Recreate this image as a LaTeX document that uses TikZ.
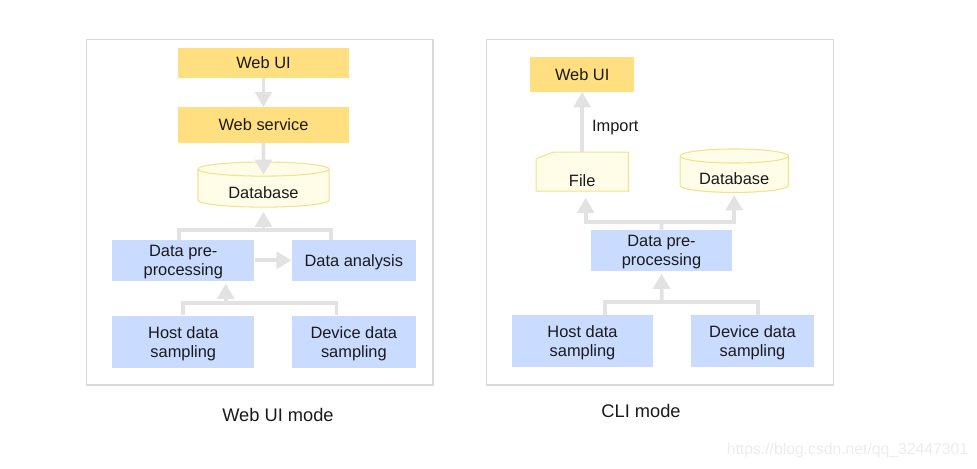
\documentclass[tikz,border=0pt]{standalone}
\usepackage{fontspec}
\setmainfont{Liberation Sans}
\usepackage{xcolor}
\usetikzlibrary{arrows.meta,shapes.geometric}

\definecolor{uiyellow}{HTML}{FFDF80}
\definecolor{procblue}{HTML}{C9DCFF}
\definecolor{storefill}{HTML}{FFFDE8}
\definecolor{storeline}{HTML}{F2E28C}
\definecolor{pipegray}{HTML}{E2E2E2}
\definecolor{panelgray}{HTML}{DADADA}
\definecolor{ink}{HTML}{1A1A1A}
\definecolor{mark}{HTML}{ECECEC}

\begin{document}
\begin{tikzpicture}[x=0.75pt,y=-0.75pt,>={Triangle[width=12.5pt,length=11.5pt]},
 font=\fontsize{12.3}{14.3}\selectfont,
 box/.style={inner sep=0pt,align=center,text=ink},
 ui/.style={box,text depth=0pt,fill=uiyellow},
 proc/.style={box,text depth=0pt,fill=procblue},
 store/.style={box,cylinder,shape border rotate=90,aspect=0.2,text height=15pt,draw=storeline,fill=storefill,line width=0.8pt},
 doc/.style={box,draw=storeline,fill=storefill,line width=0.8pt},
 pipe/.style={draw=pipegray,line width=2.8pt},
 flow/.style={pipe,->},
 panel/.style={draw=panelgray,line width=0.8pt}]

 \useasboundingbox (0,0) rectangle (977,468);

 % Web UI mode
 \draw[panel] (86.7,39.3) rectangle (433,385);
 \node[ui,minimum width=128.3pt,minimum height=22.5pt] (webui) at (263.5,62.5) {Web UI};
 \node[ui,minimum width=128.3pt,minimum height=26.5pt,node distance=46.9pt,below of=webui] (websvc) {Web service};
 \node[store,minimum width=98.3pt,minimum height=33.8pt,node distance=47.5pt,below of=websvc] (db) {Database};
 \node[proc,minimum width=106.5pt,minimum height=30.5pt] (pre) at (183.3,260.3) {Data pre-\\processing};
 \node[proc,minimum width=92.8pt,minimum height=30.5pt,node distance=127.9pt,right of=pre] (ana) {Data analysis};
 \node[proc,minimum width=106.5pt,minimum height=39pt,node distance=61pt,below of=pre] (host) {Host data\\sampling};
 \node[proc,minimum width=92.8pt,minimum height=39pt,node distance=127.9pt,right of=host] (dev) {Device data\\sampling};

 \draw[flow] (webui) -- (websvc);
 \draw[flow,shorten >=-10pt] (websvc) -- (db.north);
 \coordinate (jdb) at (263.5,230);
 \draw[pipe] ([xshift=-3pt]pre.north) |- (jdb) -| ([xshift=-17pt]ana.north);
 \draw[flow,shorten >=3pt] (jdb) -- (db.south);
 \draw[flow] (pre) -- (ana);
 \coordinate (jpre) at (225.7,303.3);
 \draw[pipe] (host.north) |- (jpre) -| ([xshift=-13pt]dev.north);
 \draw[flow,shorten >=2pt] (jpre) -- (jpre |- pre.south);

 % CLI mode
 \draw[panel] (486.7,39.3) rectangle (833.3,385);
 \node[ui,minimum width=78.2pt,minimum height=25.8pt] (webui2) at (582.2,74.5) {Web UI};
 \node[box,minimum width=68.8pt,minimum height=28.8pt,node distance=72.8pt,below of=webui2] (file) {};
 \draw[doc] (file.south west) -- ([yshift=-5pt]file.north west) -- ([xshift=13pt]file.north west)
  -- (file.north east) -- (file.south east) -- cycle;
 \node[box] (filetext) at ([yshift=-7pt]file.center) {File};
 \node[store,minimum width=81.2pt,minimum height=32.6pt] (db2) at (734.2,174.5) {Database};
 \node[proc,minimum width=106.2pt,minimum height=30.5pt] (pre2) at (661.5,250.3) {Data pre-\\processing};
 \node[proc,minimum width=106.2pt,minimum height=38.8pt] (host2) at (582.5,340.8) {Host data\\sampling};
 \node[proc,minimum width=92.7pt,minimum height=38.8pt,node distance=127.5pt,right of=host2] (dev2) {Device data\\sampling};

 \draw[flow] (file.north) -- node[box,right=6pt,pos=0.4] (imp) {Import} (webui2.south);
 \coordinate (jfile) at (661.7,221.7);
 \draw[pipe] (pre2.north) -- (jfile);
 \draw[flow,shorten >=5pt] (jfile) -| ([xshift=2.6pt]file.south);
 \draw[flow,shorten >=1.5pt] (jfile) -| (db2.south);
 \coordinate (jpre2) at (661.7,301.7);
 \draw[pipe] ([xshift=17pt]host2.north) |- (jpre2) -| ([xshift=4pt]dev2.north);
 \draw[flow,shorten >=2pt] (jpre2) -- (pre2.south);

 % captions
 \node[box,font=\fontsize{13.7}{16}\selectfont] (cap1) at (278,415) {Web UI mode};
 \node[box,font=\fontsize{13.7}{16}\selectfont] (cap2) at (641,411) {CLI mode};
 \node[inner sep=0pt,text=mark,font=\fontsize{11.8}{14}\selectfont] (wm) at (847.5,450.7) {https://blog.csdn.net/qq\_32447301};
\end{tikzpicture}
\end{document}
